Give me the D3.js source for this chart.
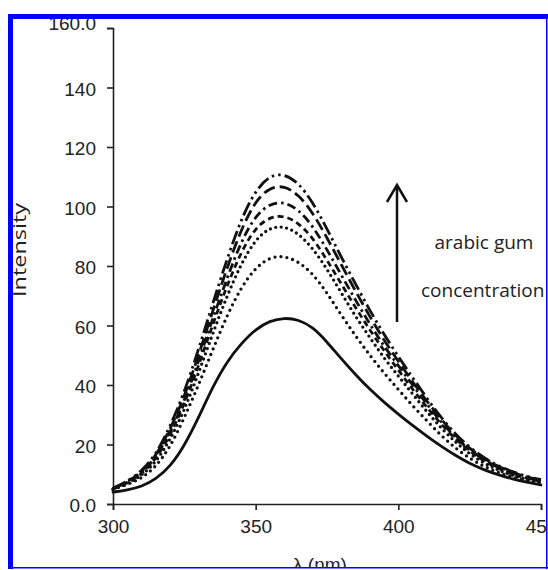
<!DOCTYPE html>
<html>
<head>
<meta charset="utf-8">
<script src="https://cdn.jsdelivr.net/npm/d3@7"></script>
<style>
  body { margin: 0; background: #fff; }
  svg { display: block; }
</style>
</head>
<body>
<div id="chart"></div>
<script>
// wavelengths (nm), every 5 nm
var wavelength = [300, 305, 310, 315, 320, 325, 330, 335, 340, 345, 350, 355, 360, 365, 370, 375,
  380, 385, 390, 395, 400, 405, 410, 415, 420, 425, 430, 435, 440, 445, 450];

// intensity curves, lowest (no gum) to highest concentration
var solid0 = [4.0, 4.7, 5.8, 8.3, 12.5, 19.5, 29.0, 39.5, 48.0, 54.0, 58.8, 61.6, 62.6, 62.0, 59.5, 54.5,
  48.8, 43.5, 38.5, 34.2, 30.2, 26.4, 22.8, 19.4, 16.3, 13.6, 11.5, 9.8, 8.4, 7.3, 6.4];
var dot1 = [5.0, 6.5, 8.6, 12.5, 19.0, 29.0, 40.0, 52.0, 63.5, 73.0, 79.5, 83.0, 83.4, 81.5, 77.5, 71.0,
  63.5, 56.5, 50.0, 44.0, 38.5, 33.0, 28.0, 23.0, 18.8, 15.3, 12.6, 10.6, 9.0, 7.8, 7.0];
var dot2 = [5.0, 6.8, 9.5, 14.0, 21.5, 31.5, 44.0, 57.5, 70.0, 81.0, 89.0, 93.0, 93.4, 91.0, 86.0, 79.0,
  71.0, 63.0, 56.0, 49.0, 43.0, 37.0, 31.0, 25.5, 20.8, 16.8, 13.7, 11.4, 9.6, 8.3, 7.4];
var dash1 = [5.0, 7.0, 10.0, 15.0, 23.0, 33.5, 46.5, 60.5, 73.5, 85.0, 93.0, 96.5, 97.0, 94.5, 89.5, 82.0,
  74.0, 66.0, 58.5, 51.5, 45.0, 38.5, 32.5, 26.8, 21.8, 17.7, 14.4, 11.9, 10.0, 8.6, 7.6];
var dash2 = [5.2, 7.2, 10.3, 15.5, 24.0, 34.5, 48.0, 62.5, 76.0, 88.5, 97.0, 101.0, 101.6, 99.0, 93.5, 85.5,
  77.0, 68.5, 60.5, 53.0, 46.5, 40.0, 33.5, 27.6, 22.3, 18.1, 14.8, 12.2, 10.3, 8.8, 7.8];
var dash3 = [5.2, 7.4, 10.6, 16.0, 25.0, 36.0, 50.0, 65.0, 79.5, 92.5, 102.0, 106.5, 107.0, 104.0, 98.0, 89.5,
  80.5, 71.5, 63.0, 55.0, 48.0, 41.0, 34.5, 28.5, 23.0, 18.6, 15.2, 12.6, 10.6, 9.0, 8.0];
var dash4 = [5.3, 7.6, 11.0, 16.5, 26.0, 37.5, 52.0, 67.5, 82.5, 96.0, 105.5, 110.5, 111.0, 108.0, 101.5, 92.5,
  83.0, 74.0, 65.0, 57.0, 49.5, 42.5, 35.5, 29.0, 23.5, 19.0, 15.5, 12.8, 10.8, 9.2, 8.2];

var xTicks = [300, 350, 400, 450];
var yTicks = [0, 20, 40, 60, 80, 100, 120, 140, 160];

var W = 548, H = 570;
var m = {left: 113, right: 7, top: 28, bottom: 66};

var svg = d3.select("#chart").append("svg")
  .attr("width", W)
  .attr("height", H);

svg.append("clipPath").attr("id", "frame")
  .append("rect").attr("x", 13).attr("y", 19).attr("width", 533).attr("height", 548);

var g = svg.append("g").attr("clip-path", "url(#frame)");

var x = d3.scaleLinear().domain([300, 450]).range([m.left, W - m.right]);
var y = d3.scaleLinear().domain([0, 160]).range([H - m.bottom, m.top]);

// axes
var xAxis = g.append("g")
  .attr("transform", "translate(0," + y(0) + ")")
  .call(d3.axisBottom(x).tickValues(xTicks).tickSize(6).tickPadding(6));
var yAxis = g.append("g")
  .attr("transform", "translate(" + x(300) + ",0)")
  .call(d3.axisLeft(y).tickValues(yTicks).tickSize(6).tickPadding(11)
    .tickFormat(function(d) { return d == 160 ? "160.0" : d == 0 ? "0.0" : d; }));

[xAxis, yAxis].forEach(function(a) {
  a.select(".domain").attr("stroke", "#222").attr("stroke-width", 1.6);
  a.selectAll(".tick line").attr("stroke", "#222").attr("stroke-width", 1.6);
  a.selectAll(".tick text")
    .attr("fill", "#222")
    .style("font-family", "'Liberation Sans', Arial, sans-serif")
    .style("font-size", "19px");
});
yAxis.selectAll(".tick text").attr("dy", function(d) { return d == 160 ? "0.1em" : "0.42em"; });
xAxis.selectAll(".tick text").attr("dy", "0.9em");

// curves
var series = [
  {v: solid0, dash: null, cap: "round"},
  {v: dot1, dash: "0,6", cap: "round"},
  {v: dot2, dash: "0,5.5", cap: "round"},
  {v: dash1, dash: "6,4", cap: "butt"},
  {v: dash2, dash: "9,4,2.5,4", cap: "butt"},
  {v: dash3, dash: "12,5", cap: "butt"},
  {v: dash4, dash: "14,4,2.5,4,2.5,4", cap: "butt"}
];

var line = d3.line()
  .x(function(d, i) { return x(wavelength[i]); })
  .y(function(d) { return y(d); })
  .curve(d3.curveBasis);

g.selectAll(".curve")
  .data(series)
  .enter()
  .append("path")
  .attr("class", "curve")
  .attr("d", function(d) { return line(d.v); })
  .attr("fill", "none")
  .attr("stroke", "#111")
  .attr("stroke-width", function(d) { return d.dash && d.dash.indexOf("0,") == 0 ? 3.3 : 2.8; })
  .attr("stroke-linecap", function(d) { return d.cap; })
  .attr("stroke-dasharray", function(d) { return d.dash; });

// arrow
g.append("line")
  .attr("x1", 397).attr("y1", 186).attr("x2", 397).attr("y2", 322)
  .attr("stroke", "#111").attr("stroke-width", 2.5);
g.append("path")
  .attr("d", "M387,202 L397,185 L407,202")
  .attr("fill", "none").attr("stroke", "#111").attr("stroke-width", 2.5);

// annotation text
var noteFont = "'Open Sans', 'Noto Sans', sans-serif";
g.append("text")
  .attr("x", 484).attr("y", 249)
  .attr("text-anchor", "middle")
  .style("font-family", noteFont).style("font-size", "19px").attr("fill", "#222")
  .text("arabic gum");
g.append("text")
  .attr("x", 421).attr("y", 297)
  .style("font-family", noteFont).style("font-size", "19px").attr("fill", "#222")
  .text("concentration");

// axis titles
g.append("text")
  .attr("transform", "translate(26,250) rotate(-90)")
  .attr("text-anchor", "middle")
  .attr("textLength", 94).attr("lengthAdjust", "spacingAndGlyphs")
  .style("font-family", noteFont).style("font-size", "18px").attr("fill", "#222")
  .text("Intensity");
g.append("text")
  .attr("x", 320).attr("y", 571)
  .attr("text-anchor", "middle")
  .style("font-family", "'Liberation Sans', Arial, sans-serif").style("font-size", "19px").attr("fill", "#222")
  .text("λ (nm)");

// blue frame
svg.append("rect").attr("x", 8).attr("y", 14).attr("width", 5).attr("height", 555).attr("fill", "#0000ff");
svg.append("rect").attr("x", 8).attr("y", 14).attr("width", 540).attr("height", 5).attr("fill", "#0000ff");
svg.append("rect").attr("x", 546).attr("y", 14).attr("width", 1.5).attr("height", 555).attr("fill", "#0000ff");
svg.append("rect").attr("x", 8).attr("y", 567).attr("width", 540).attr("height", 1.5).attr("fill", "#0000ff");
</script>
</body>
</html>
